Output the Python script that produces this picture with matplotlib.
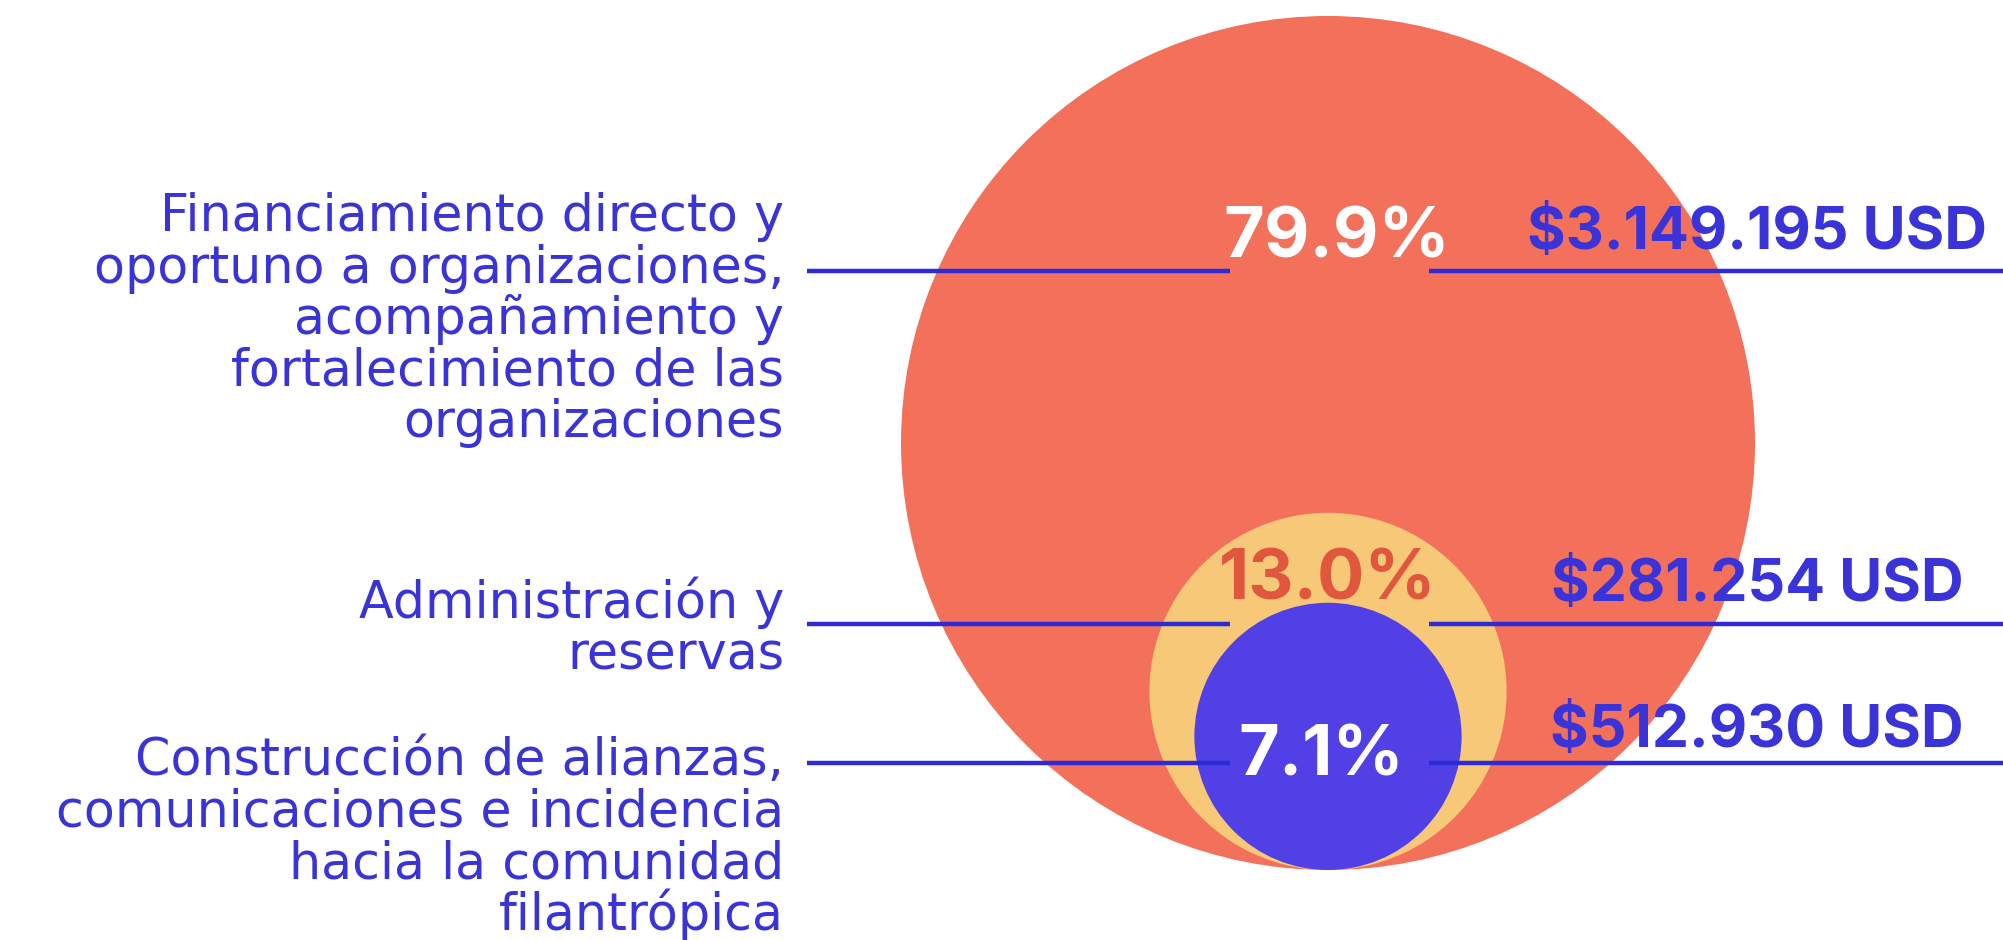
import numpy as np
import matplotlib
matplotlib.use("Agg")
import matplotlib.pyplot as plt
from matplotlib.patches import Circle

# datos
categorias = [
    "Financiamiento directo y\noportuno a organizaciones,\nacompañamiento y\nfortalecimiento de las\norganizaciones",
    "Administración y\nreservas",
    "Construcción de alianzas,\ncomunicaciones e incidencia\nhacia la comunidad\nfilantrópica",
]
porcentajes = [79.9, 13.0, 7.1]
montos = ["$3.149.195 USD", "$281.254 USD", "$512.930 USD"]

azul_txt = "#3a33d8"
azul_linea = "#2d2ad6"
col_circ = ["#f3705a", "#f6c878", "#5040e6"]
col_pct = ["white", "#e0573d", "white"]

W, H = 2003, 940
fig = plt.figure(figsize=(W / 100, H / 100), dpi=100)
ax = fig.add_axes([0, 0, 1, 1])
ax.set_xlim(0, W)
ax.set_ylim(H, 0)
ax.set_aspect("equal")
ax.axis("off")

# circulos anidados, tangentes abajo
r0 = 427
cx, fondo = 1328, 870
for p, c in zip(porcentajes, col_circ):
    r = r0 * (p / porcentajes[0]) ** 0.48
    ax.add_patch(Circle((cx, fondo - r), r, color=c, lw=0, zorder=1))

# lineas guia, porcentajes y montos
y_lineas = [271, 624, 763]
base_pct = [257, 600, 776]
x_pct = [1337, 1328, 1321]
base_monto = [249, 601, 747]

for i in range(3):
    y = y_lineas[i]
    ax.plot([807, 1230], [y, y], color=azul_linea, lw=3.2, zorder=2, solid_capstyle="butt")
    ax.plot([1429, W], [y, y], color=azul_linea, lw=3.2, zorder=2, solid_capstyle="butt")
    ax.text(x_pct[i], base_pct[i], f"{porcentajes[i]:.1f}%", color=col_pct[i], fontsize=50.5,
            fontweight="bold", family="Inter", ha="center", va="baseline", zorder=3)
    ax.text(1757, base_monto[i], montos[i], color=azul_txt, fontsize=42.5,
            fontweight="bold", family="Inter", ha="center", va="baseline", zorder=3)

# etiquetas a la izquierda, linea por linea
base_cat = [231, 618, 775]
paso = 51.6
for i, cat in enumerate(categorias):
    for j, linea in enumerate(cat.split("\n")):
        ax.text(784, base_cat[i] + j * paso, linea, color=azul_txt, fontsize=36.5,
                family="DejaVu Sans", ha="right", va="baseline")

fig.savefig("out.png", dpi=100)
